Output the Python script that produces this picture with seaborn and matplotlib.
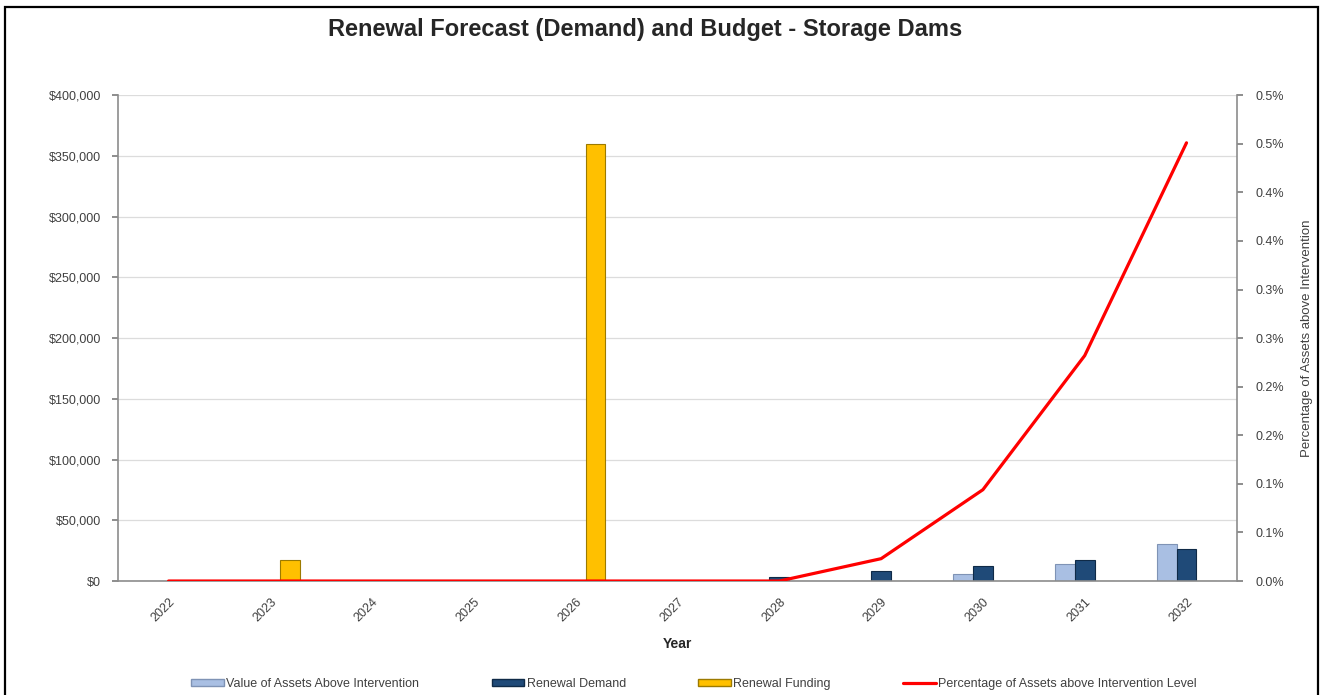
import matplotlib

matplotlib.use("Agg")
import matplotlib.pyplot as plt
import numpy as np
import pandas as pd
import seaborn as sns
from matplotlib.lines import Line2D
from matplotlib.patches import Rectangle

# ── data ──
years = ["2022", "2023", "2024", "2025", "2026", "2027",
         "2028", "2029", "2030", "2031", "2032"]
value_above = [0, 0, 0, 0, 0, 0, 0, 0, 5500, 14300, 30200]
renewal_demand = [0, 0, 0, 0, 0, 0, 3300, 8200, 12300, 17600, 26100]
renewal_funding = [0, 17000, 0, 0, 360000, 0, 0, 0, 0, 0, 0]
pct_above = [0, 0, 0, 0, 0, 0, 0, 0.023, 0.094, 0.232, 0.451]

series_names = ["Value of Assets Above Intervention", "Renewal Demand",
                "Renewal Funding"]
line_name = "Percentage of Assets above Intervention Level"
left_ticks = [0, 50000, 100000, 150000, 200000, 250000, 300000, 350000, 400000]
right_ticks = [0, 0.05, 0.10, 0.15, 0.20, 0.25, 0.30, 0.35, 0.40, 0.45, 0.50]
right_tick_labels = ["0.0%", "0.1%", "0.1%", "0.2%", "0.2%", "0.3%",
                     "0.3%", "0.4%", "0.4%", "0.5%", "0.5%"]

bar_colors = {series_names[0]: "#a9bfe3", series_names[1]: "#1f4a78",
              series_names[2]: "#ffc000"}
edge_colors = ["#7f93b5", "#0f2a47", "#9c7a00"]

df = pd.DataFrame(
    {
        "Year": years * 3,
        "Series": [series_names[0]] * len(years)
        + [series_names[1]] * len(years)
        + [series_names[2]] * len(years),
        "Amount": value_above + renewal_demand + renewal_funding,
    }
)
df_line = pd.DataFrame({"pos": np.arange(len(years)), "pct": pct_above})

sns.set_theme(style="white")
plt.rcParams["font.family"] = ["Liberation Sans", "DejaVu Sans"]

fig = plt.figure(figsize=(13.22, 6.95), dpi=100)
ax = fig.add_axes([0.089, 0.164, 0.847, 0.699])

sns.barplot(
    data=df,
    x="Year",
    y="Amount",
    hue="Series",
    hue_order=series_names,
    order=years,
    palette=bar_colors,
    width=0.58,
    saturation=1,
    legend=False,
    ax=ax,
)
for cont, ec in zip(ax.containers, edge_colors):
    for bar in cont:
        bar.set_edgecolor(ec)
        bar.set_linewidth(0.8)

ax.set_xlim(-0.5, len(years) - 0.5)
ax.set_ylim(0, 400000)
ax.set_yticks(left_ticks)
ax.set_yticklabels([f"${v:,.0f}" for v in left_ticks])
ax.yaxis.grid(True, color="#dcdcdc", linewidth=0.9)
ax.set_axisbelow(True)
ax.tick_params(axis="y", length=4, color="#808080", labelsize=9,
               labelcolor="#404040", pad=8)
ax.tick_params(axis="x", length=0, labelsize=9, labelcolor="#404040", pad=11)
for lbl in ax.get_xticklabels():
    lbl.set_rotation(45)
    lbl.set_ha("right")
    lbl.set_rotation_mode("anchor")
ax.set_xlabel("Year", fontsize=10, fontweight="bold", color="#262626",
              labelpad=9)
ax.set_ylabel("")
for side in ["top", "right"]:
    ax.spines[side].set_visible(False)
for side in ["left", "bottom"]:
    ax.spines[side].set_color("#8c8c8c")
    ax.spines[side].set_linewidth(1.2)

ax2 = ax.twinx()
sns.lineplot(data=df_line, x="pos", y="pct", color="#ff0000", linewidth=2.3,
             ax=ax2, legend=False)
ax2.set_ylim(0, 0.5)
ax2.set_yticks(right_ticks)
ax2.set_yticklabels(right_tick_labels)
ax2.tick_params(axis="y", length=4, color="#808080", labelsize=9,
                labelcolor="#404040", pad=9)
ax2.set_ylabel("Percentage of Assets above Intervention", fontsize=9.5,
               color="#404040", labelpad=12)
ax2.set_xlabel("")
for side in ["top", "left", "bottom"]:
    ax2.spines[side].set_visible(False)
ax2.spines["right"].set_color("#8c8c8c")
ax2.spines["right"].set_linewidth(1.2)

fig.text(0.488, 0.958, "Renewal Forecast (Demand) and Budget - Storage Dams",
         ha="center", va="center", fontsize=17, fontweight="bold",
         color="#262626")

handles = [
    Rectangle((0, 0), 1, 1, facecolor=bar_colors[series_names[0]],
              edgecolor=edge_colors[0]),
    Rectangle((0, 0), 1, 1, facecolor=bar_colors[series_names[1]],
              edgecolor=edge_colors[1]),
    Rectangle((0, 0), 1, 1, facecolor=bar_colors[series_names[2]],
              edgecolor=edge_colors[2]),
    Line2D([0], [0], color="#ff0000", linewidth=2.3),
]
fig.legend(
    handles,
    series_names + [line_name],
    loc="center",
    bbox_to_anchor=(0.525, 0.016),
    ncol=4,
    frameon=False,
    fontsize=9,
    handlelength=2.6,
    handleheight=0.45,
    handletextpad=0.2,
    columnspacing=5.8,
    labelcolor="#404040",
)

fig.add_artist(
    Rectangle((0.004, -0.02), 0.993, 1.01, transform=fig.transFigure,
              fill=False, edgecolor="black", linewidth=1.6)
)

fig.savefig("out.png", dpi=100)
plt.close(fig)
